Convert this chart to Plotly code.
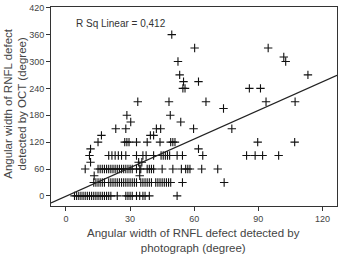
import numpy as np
import plotly.graph_objects as go

# Angular width by photograph (x) grouped by OCT angular width level (y)
oct_levels = [0, 30, 45, 60, 75, 90, 105, 120, 135, 150, 165, 180, 195, 210, 240, 255, 270, 300, 310, 330, 360]
photo_at_0 = [4, 5, 6, 7, 8, 9, 10, 11, 12, 13, 14, 15, 16, 17, 18, 19, 20, 21, 24, 28, 29, 30, 31, 33, 34.5, 36, 37, 39, 52]
photo_at_30 = [13, 14, 15, 16, 17, 18, 20, 21, 22, 23, 24, 25, 26, 27, 28, 29, 30, 31, 32, 33, 35, 36, 37, 38,
               39, 40, 42, 43, 44, 45, 46, 47, 48, 49, 54.5, 74]
photo_at_45 = [13.2, 34.5]
photo_at_60 = [9, 15, 16, 17, 18, 19, 20, 21, 22, 23, 24, 25, 26, 27, 28, 29, 30, 31, 33, 34.5, 35, 38, 39, 40,
               41, 45, 50, 54, 56, 57, 58, 63.5, 71]
photo_at_75 = [11.5, 34, 35.5]
photo_at_90 = [11, 20, 21.5, 23, 24.5, 26, 28, 33, 36, 37.5, 41, 44.5, 45.5, 46.5, 47.5, 48.5, 52, 54.5, 64,
               84.5, 88.5, 92, 99.5]
photo_at_105 = [11.5, 62]
photo_at_120 = [15, 27.5, 28.5, 29.5, 33, 38, 44, 49, 50, 51, 89.7, 107]
photo_at_135 = [16.6, 39.5, 41]
photo_at_150 = [23.3, 28, 42.3, 44.3, 59.7, 77.6]
photo_at_165 = [30.3, 53.7]
photo_at_180 = [28.5, 48.8]
photo_at_195 = [73.7]
photo_at_210 = [33.6, 48.2, 65.5, 93.6, 107.2]
photo_at_240 = [54.7, 55.7, 85.8, 91]
photo_at_255 = [55, 62]
photo_at_270 = [53.2, 113.2]
photo_at_300 = [52.4, 102.8]
photo_at_310 = [101.9]
photo_at_330 = [60.2, 94.6]
photo_at_360 = [49.5]

photo_groups = [photo_at_0, photo_at_30, photo_at_45, photo_at_60, photo_at_75, photo_at_90, photo_at_105,
                photo_at_120, photo_at_135, photo_at_150, photo_at_165, photo_at_180, photo_at_195, photo_at_210,
                photo_at_240, photo_at_255, photo_at_270, photo_at_300, photo_at_310, photo_at_330, photo_at_360]

fit_slope = 2.13
fit_intercept = -1.0
r_sq_text = "R Sq Linear = 0,412"
x_title = "Angular width of RNFL defect detected by<br>photograph (degree)"
y_title = "Angular width of RNFL defect<br>detected by OCT (degree)"

x_ticks = [0, 30, 60, 90, 120]
y_ticks = [0, 60, 120, 180, 240, 300, 360, 420]
x_range = [-7, 126.8]
y_range = [-22.6, 421.6]

photo_deg = []
oct_deg = []
for lvl, grp in zip(oct_levels, photo_groups):
    photo_deg.extend(grp)
    oct_deg.extend([lvl] * len(grp))

fig = go.Figure()
fig.add_trace(go.Scatter(
    x=photo_deg, y=oct_deg, mode="markers",
    marker=dict(symbol="cross-thin", size=6, line=dict(color="#111111", width=1.1)),
    showlegend=False,
))
fit_x = np.array(x_range)
fit_y = fit_intercept + fit_slope * fit_x
fig.add_trace(go.Scatter(
    x=fit_x, y=fit_y, mode="lines",
    line=dict(color="#222222", width=1.2), showlegend=False,
))

axis_common = dict(
    showgrid=False, zeroline=False, showline=True, mirror=True,
    linecolor="#333333", linewidth=1, ticks="outside", ticklen=4,
    tickcolor="#333333", tickfont=dict(size=9, color="#444444"),
    ticklabeloverflow="allow",
)
fig.update_xaxes(range=x_range, tickvals=x_ticks, **axis_common)
fig.update_yaxes(range=y_range, tickvals=y_ticks, **axis_common)

title_font = dict(size=11.5, color="#444444")
fig.add_annotation(text=x_title, xref="paper", yref="paper", x=0.497, y=-0.172,
                   xanchor="center", yanchor="middle", showarrow=False, font=title_font)
fig.add_annotation(text=y_title, xref="paper", yref="paper", x=-0.127, y=0.517,
                   xanchor="center", yanchor="middle", showarrow=False, textangle=-90,
                   font=title_font)
fig.add_annotation(text=r_sq_text, xref="paper", yref="paper", x=0.08, y=0.916,
                   xanchor="left", yanchor="middle", showarrow=False,
                   font=dict(size=10, color="#333333"))

fig.update_layout(
    width=341, height=254,
    margin=dict(l=51, r=3, t=3, b=48),
    paper_bgcolor="white", plot_bgcolor="white",
    font=dict(family="Liberation Sans, Arial, sans-serif", color="#444444"),
)

fig.write_html("out.html")
